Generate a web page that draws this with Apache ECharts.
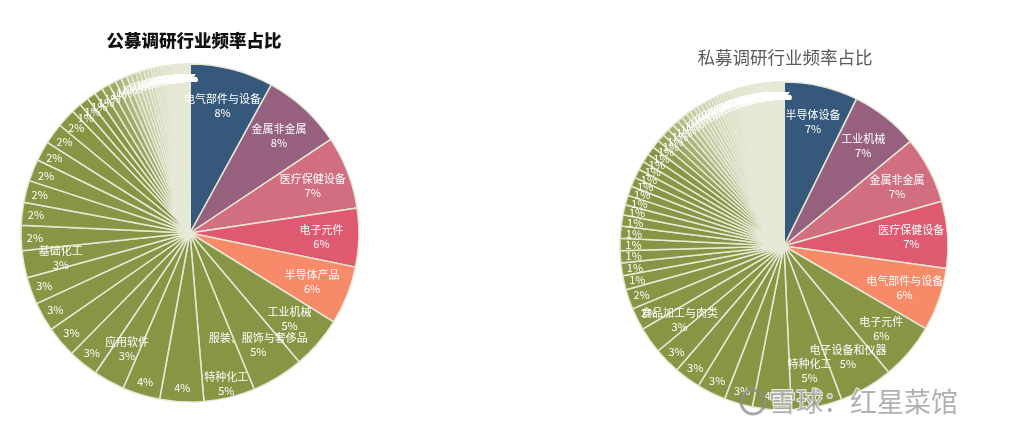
<!DOCTYPE html>
<html><head><meta charset="utf-8">
<script src="https://cdn.jsdelivr.net/npm/echarts@6/dist/echarts.min.js"></script>
<style>html,body{margin:0;padding:0;background:#fff}#c{width:1011px;height:433px}</style>
</head><body><div id="c"></div>
<script>
// ---- data ----
const leftTitle = '公募调研行业频率占比';
const rightTitle = '私募调研行业频率占比';
// names shown in reference (blank = label shows only percentage)
const leftNames = ['电气部件与设备','金属非金属','医疗保健设备','电子元件','半导体产品','工业机械','服装、服饰与奢侈品','特种化工','','','应用软件','','','','','基础化工'];
const leftValues = [8.0,7.7,7.0,5.6,5.6,5.0,5.0,4.9,4.2,3.6,3.0,2.9,3.0,2.8,2.6,2.6,2.4,2.2,2.1,2.1,1.9,2.0,1.8,
  0.95,0.9,0.85,0.8,0.75,0.7,0.6,0.55,
  0.45,0.45,0.4,0.4,0.35,0.35,0.3,0.3,0.3,0.25,0.25,0.2,0.2,0.2,0.18,0.16,0.15,0.14,0.12,0.12,0.1,0.1,0.1,0.08,0.08,0.06,0.06,0.05,0.05,0.04,0.04,0.03,0.03,0.02,0.02];
const rightNames = ['半导体设备','工业机械','金属非金属','医疗保健设备','电气部件与设备','电子元件','电子设备和仪器','特种化工','','','','','','食品加工与肉类'];
const rightValues = [7.3,6.7,6.6,6.6,6.2,5.6,5.3,5.0,3.8,2.8,2.85,2.6,2.6,2.6,2.2,1.95,
  1.4,1.25,1.2,1.2,1.2,1.1,1.0,0.95,0.95,0.9,0.9,0.85,0.85,0.85,0.8,0.75,0.7,0.65,0.6,0.55,0.52,
  0.45,0.45,0.4,0.4,0.4,0.35,0.35,0.35,0.3,0.3,0.3,0.3,0.3,0.25,0.25,0.25,0.25,0.25,0.2,0.2,0.2,0.2,0.2,0.18,0.18,0.16,0.16,0.15,0.15,0.14,0.14,0.12,0.12,0.12,0.1,0.1,0.1,0.1,0.1,0.08,0.08,0.08,0.08,0.06,0.06,0.06,0.06,0.05,0.05,0.05,0.05,0.04,0.04,0.04,0.04,0.03,0.03,0.03,0.03,0.02,0.02,0.02,0.02];
// named labels that sit near the rim in the reference
const leftOuterNamed = ['特种化工'];
const rightOuterNamed = [];
const topColors = ['#36597b','#97607f','#d16e80','#df5a70','#f68a69'];
const otherColor = '#879645';
const paleColor = '#e2e6d0';

// ---- build ----
const FONT = "'Noto Sans CJK SC', sans-serif";
function mix(a, b, t) {
  const pa = [1,3,5].map(k => parseInt(a.substr(k,2),16));
  const pb = [1,3,5].map(k => parseInt(b.substr(k,2),16));
  return 'rgb(' + pa.map((x, i) => Math.round(x + (pb[i] - x) * t)).join(',') + ')';
}
function sliceColor(i, v) {
  if (i < topColors.length) return topColors[i];
  // thin tail slices look paler (separators dominate)
  const t = Math.max(0, Math.min(1, (0.85 - v) / 0.6));
  return t > 0 ? mix(otherColor, paleColor, 0.95 * t) : otherColor;
}
function buildData(names, values, colored) {
  return values.map((v, i) => {
    const d = { name: names[i] || '', value: v };
    if (colored) d.itemStyle = { color: sliceColor(i, v) };
    return d;
  });
}
const pct = p => Math.round(p.percent) + '%';
function pieSeries(names, values, outerNamed, center, R) {
  const base = {
    type: 'pie', center: center, startAngle: 90, clockwise: true,
    avoidLabelOverlap: false, labelLine: { show: false }, emphasis: { disabled: true },
    minShowLabelAngle: 0, labelLayout: { hideOverlap: false }
  };
  const lbl = {
    show: true, position: 'inside', color: '#fff', fontSize: 11, lineHeight: 14,
    fontFamily: FONT, overflow: 'none'
  };
  const clear = { color: 'rgba(0,0,0,0)', borderWidth: 0 };
  const isOuter = n => outerNamed.indexOf(n) >= 0;
  return [
    Object.assign({}, base, {
      radius: [0, R], data: buildData(names, values, true), label: { show: false },
      itemStyle: { borderColor: '#e6e9d6', borderWidth: 1.5 }, z: 1
    }),
    Object.assign({}, base, {
      radius: [R * 0.52, R], data: buildData(names, values, false), silent: true, z: 3,
      itemStyle: clear,
      label: Object.assign({}, lbl, { formatter: p => (p.name && !isOuter(p.name)) ? p.name + '\n' + pct(p) : '' })
    }),
    Object.assign({}, base, {
      radius: [R * 0.8, R], data: buildData(names, values, false), silent: true, z: 3,
      itemStyle: clear,
      label: Object.assign({}, lbl, { formatter: p => !p.name ? pct(p) : (isOuter(p.name) ? p.name + '\n' + pct(p) : '') })
    })
  ];
}

const chart = echarts.init(document.getElementById('c'), null, { renderer: 'canvas' });
chart.setOption({
  animation: false,
  backgroundColor: '#fff',
  title: [
    { text: leftTitle, left: 189, top: 27, textAlign: 'center',
      textStyle: { fontSize: 17.5, fontWeight: 900, color: '#111', fontFamily: "'Noto Sans CJK SC', serif" } },
    { text: rightTitle, left: 780, top: 44, textAlign: 'center',
      textStyle: { fontSize: 17.5, fontWeight: 'normal', color: '#5a5a5a', fontFamily: FONT } }
  ],
  series: [].concat(
    pieSeries(leftNames, leftValues, leftOuterNamed, [190, 233], 169),
    pieSeries(rightNames, rightValues, rightOuterNamed, [784, 246], 164)
  ),
  graphic: [
    { type: 'circle', shape: { cx: 753, cy: 402, r: 12 }, z: 100,
      style: { fill: 'none', stroke: 'rgba(140,140,140,0.75)', lineWidth: 3 } },
    { type: 'text', x: 769, y: 402, z: 100,
      style: { text: '雪球：红星菜馆', fontSize: 27, fontFamily: FONT, fill: 'rgba(150,150,150,0.75)',
        stroke: 'rgba(255,255,255,0.8)', lineWidth: 2, verticalAlign: 'middle' } }
  ]
});
</script></body></html>
